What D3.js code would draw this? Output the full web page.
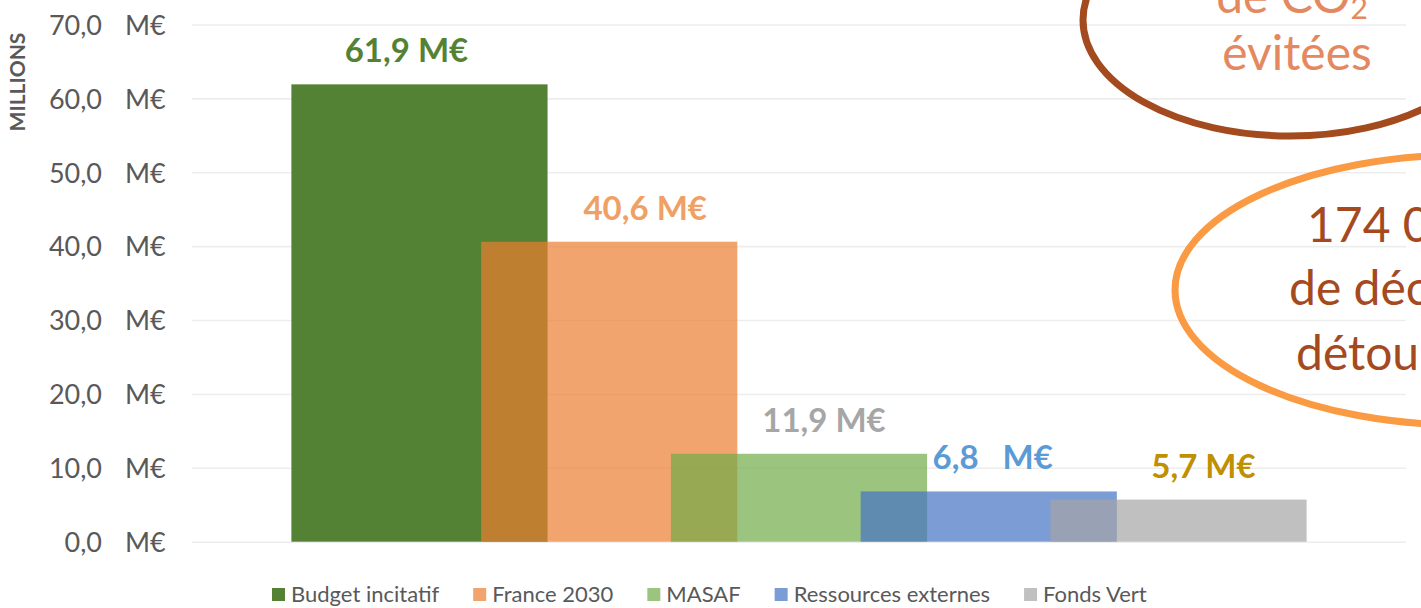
<!DOCTYPE html>
<html lang="fr">
<head>
<meta charset="utf-8">
<script src="https://cdn.jsdelivr.net/npm/d3@7/dist/d3.min.js"></script>
<style>
  html, body { margin: 0; padding: 0; background: #ffffff; overflow: hidden; }
  svg { display: block; font-family: Lato, "Open Sans", sans-serif; }
  text { white-space: pre; }
</style>
</head>
<body>
<svg id="chart" width="1421" height="608"></svg>
<script>
// Funding sources (millions of euros)
const series = ["Budget incitatif", "France 2030", "MASAF", "Ressources externes", "Fonds Vert"];
const values = [61.9, 40.6, 11.9, 6.8, 5.7];
const labelGaps = [" ", " ", " ", "   ", " "];
const yTicks = [0, 10, 20, 30, 40, 50, 60, 70];
const unitLabel = "M€";
const axisTitle = "MILLIONS";

// Styling
const barColors = ["#548235", "#ED7D31", "#70AD47", "#4472C4", "#A5A5A5"];
const barOpacity = [1, 0.7, 0.7, 0.7, 0.7];
const labelColors = ["#548235", "#F0A064", "#A6A6A6", "#5B9BD5", "#BF9000"];
const labelShift = [-13, 36, 25, 4, 25];

const fr = d3.formatLocale({ decimal: ",", thousands: "\u00a0", grouping: [3], currency: ["", "\u00a0€"] });
const fmt = fr.format(".1f");

const svg = d3.select("#chart");
const plot = { left: 192, right: 1406, top: 24.5, bottom: 541.7 };

const y = d3.scaleLinear().domain([0, 70]).range([plot.bottom, plot.top]);
const x = d3.scaleBand().domain(series).range([324.6, 1273.4]).paddingInner(0).paddingOuter(0);
const barW = x.step() * 1.35;

// Gridlines
svg.append("g")
  .attr("transform", `translate(${plot.left},0)`)
  .call(d3.axisRight(y).tickValues(yTicks).tickSize(plot.right - plot.left).tickFormat(""))
  .call(g => g.select(".domain").remove())
  .call(g => g.selectAll("line").attr("stroke", "#EDEDED").attr("stroke-width", 1.6));

// Y axis labels: number + unit
const yAxis = svg.append("g")
  .attr("transform", "translate(102,0)")
  .call(d3.axisLeft(y).tickValues(yTicks).tickSize(0).tickPadding(0).tickFormat(d => fmt(d)))
  .call(g => g.select(".domain").remove());
yAxis.selectAll("text")
  .attr("fill", "#595959").attr("font-size", 27).attr("font-family", "Lato, sans-serif")
  .attr("dy", "0.36em");
yAxis.selectAll(".tick").append("text")
  .attr("x", 23).attr("dy", "0.36em")
  .attr("text-anchor", "start")
  .attr("fill", "#595959").attr("font-size", 27).attr("font-family", "Lato, sans-serif")
  .text(unitLabel);

svg.append("text")
  .attr("transform", "translate(25,82) rotate(-90)")
  .attr("text-anchor", "middle")
  .attr("fill", "#595959").attr("font-size", 21).attr("font-weight", "bold")
  .text(axisTitle);

// Overlapping bars
const data = series.map((s, i) => ({ s, v: values[i], i }));
svg.append("g").selectAll("rect").data(data).join("rect")
  .attr("x", d => x(d.s) + x.bandwidth() / 2 - barW / 2)
  .attr("width", barW)
  .attr("y", d => y(d.v))
  .attr("height", d => y(0) - y(d.v))
  .attr("fill", d => barColors[d.i])
  .attr("fill-opacity", d => barOpacity[d.i]);

// Value labels
svg.append("g").selectAll("text").data(data).join("text")
  .attr("x", d => x(d.s) + x.bandwidth() / 2 + labelShift[d.i])
  .attr("y", d => y(d.v) - 22)
  .attr("text-anchor", "middle")
  .attr("font-size", 33).attr("font-weight", "bold")
  .attr("fill", d => labelColors[d.i])
  .text(d => fmt(d.v) + labelGaps[d.i] + unitLabel);

// Legend
const legend = svg.append("g");
let lx = 272;
series.forEach((s, i) => {
  legend.append("rect")
    .attr("x", lx).attr("y", 588).attr("width", 13).attr("height", 13)
    .attr("fill", barColors[i]).attr("fill-opacity", barOpacity[i]);
  const t = legend.append("text")
    .attr("x", lx + 19).attr("y", 602)
    .attr("font-size", 22).attr("fill", "#595959")
    .text(s);
  lx += 19 + t.node().getComputedTextLength() + 34;
});

// Callout ellipses
const callouts = svg.append("g");
callouts.append("ellipse")
  .attr("cx", 1290).attr("cy", 20).attr("rx", 207).attr("ry", 116)
  .attr("fill", "none").attr("stroke", "#A34A1E").attr("stroke-width", 7);
const co2 = callouts.append("text")
  .attr("x", 1292).attr("y", 13).attr("text-anchor", "middle")
  .attr("font-size", 48).attr("fill", "#E4895F");
co2.append("tspan").text("de CO");
co2.append("tspan").attr("font-size", 30).attr("dy", 6).text("2");
callouts.append("text")
  .attr("x", 1297).attr("y", 70).attr("text-anchor", "middle")
  .attr("font-size", 48).attr("fill", "#E4895F")
  .text("évitées");

callouts.append("ellipse")
  .attr("cx", 1465).attr("cy", 290).attr("rx", 290).attr("ry", 135)
  .attr("fill", "none").attr("stroke", "#FA9A42").attr("stroke-width", 7);
const wasteLines = ["174 000 t", "de déchets", "détournés"];
const wasteX = [1307, 1289, 1296];
const wasteY = [242, 305, 370];
wasteLines.forEach((s, i) => {
  callouts.append("text")
    .attr("x", wasteX[i]).attr("y", wasteY[i])
    .attr("font-size", 48).attr("fill", "#A5491F")
    .text(s);
});
</script>
</body>
</html>
